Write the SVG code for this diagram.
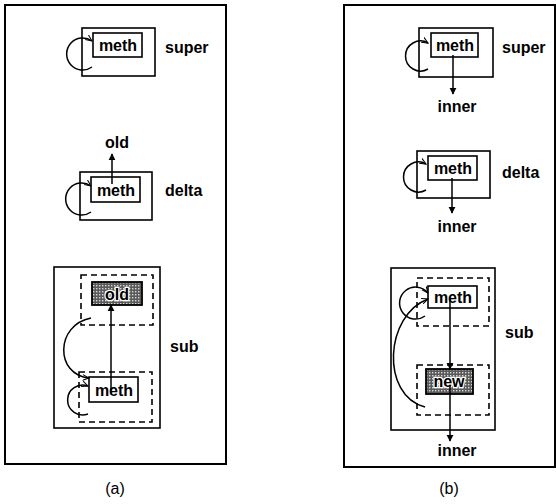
<svg xmlns="http://www.w3.org/2000/svg" width="556" height="504" viewBox="0 0 556 504">
<style>
.panel{fill:none;stroke:#000;stroke-width:2}
.box{fill:#fff;stroke:#000;stroke-width:1.6}
.dash{fill:none;stroke:#000;stroke-width:1.6;stroke-dasharray:6 4}
.fill{fill:url(#stip);stroke:#000;stroke-width:1.8}
.t{font-family:"Liberation Sans",Arial,sans-serif;font-size:16px;font-weight:bold;fill:#000}
.r{font-weight:normal}
.c{text-anchor:middle}
.halo{stroke:#fff;stroke-width:2.5;paint-order:stroke}
.ln{fill:none;stroke:#000;stroke-width:1.5}
</style>
<defs>
<pattern id="stip" width="3" height="3" patternUnits="userSpaceOnUse">
<rect width="3" height="3" fill="#5a5a5a"/>
<rect x="0" y="0" width="1.4" height="1.4" fill="#d8d8d8"/>
</pattern>
<marker id="ah" viewBox="0 0 10 10" refX="9" refY="5" markerWidth="7" markerHeight="8" orient="auto" markerUnits="userSpaceOnUse">
<path d="M0,0 L10,5 L0,10 z" fill="#000"/>
</marker>
<marker id="oh" viewBox="0 0 10 10" refX="9" refY="5" markerWidth="7" markerHeight="7" orient="auto" markerUnits="userSpaceOnUse">
<path d="M0,1 L9,5 L0,9" fill="none" stroke="#000" stroke-width="1.5"/>
</marker>
</defs>

<rect class="panel" x="5" y="5" width="221" height="459"/>
<rect class="panel" x="344" y="5" width="211" height="462"/>

<g id="a-super">
<rect class="box" x="82" y="28" width="73" height="48"/>
<rect class="box" x="93" y="33" width="49" height="24"/>
<text class="t c" x="118" y="51">meth</text>
<text class="t" x="165" y="53">super</text>
</g>
<g id="a-delta">
<rect class="box" x="80" y="172" width="72" height="48"/>
<rect class="box" x="91" y="177" width="49" height="25"/>
<text class="t c" x="116" y="196">meth</text>
<text class="t" x="165" y="196">delta</text>
<text class="t c" x="117" y="148">old</text>
</g>
<g id="a-sub">
<rect class="box" x="54" y="267" width="106" height="161"/>
<rect class="dash" x="81" y="275" width="72" height="50"/>
<rect class="fill" x="92" y="282" width="50" height="23"/>
<text class="t c halo" x="117" y="300">old</text>
<rect class="dash" x="79" y="372" width="73" height="50"/>
<rect class="box" x="89" y="377" width="49" height="25"/>
<text class="t c" x="114" y="396">meth</text>
<text class="t" x="170" y="352">sub</text>
</g>

<g id="b-super">
<rect class="box" x="419" y="28" width="74" height="49"/>
<rect class="box" x="431" y="33" width="47" height="24"/>
<text class="t c" x="455" y="51">meth</text>
<text class="t" x="502" y="53">super</text>
<text class="t c" x="457" y="112">inner</text>
</g>
<g id="b-delta">
<rect class="box" x="417" y="151" width="73" height="47"/>
<rect class="box" x="428" y="156" width="49" height="24"/>
<text class="t c" x="453" y="174">meth</text>
<text class="t" x="502" y="178">delta</text>
<text class="t c" x="457" y="232">inner</text>
</g>
<g id="b-sub">
<rect class="box" x="391" y="268" width="104" height="162"/>
<rect class="dash" x="417" y="278" width="72" height="48"/>
<rect class="box" x="428" y="286" width="49" height="22"/>
<text class="t c" x="453" y="303">meth</text>
<rect class="dash" x="417" y="365" width="72" height="50"/>
<rect class="fill" x="426" y="369" width="47" height="25"/>
<text class="t c halo" x="449" y="387">new</text>
<text class="t" x="505" y="338">sub</text>
<text class="t c" x="457" y="456">inner</text>
</g>

<g id="connectors">
<path class="ln" marker-end="url(#oh)" d="M92,67 A16,16 0 1 1 92,41"/>
<path class="ln" marker-end="url(#oh)" d="M91,212 A16,16 0 1 1 91,186"/>
<line class="ln" marker-end="url(#ah)" x1="112" y1="184" x2="112" y2="154"/>
<path class="ln" marker-end="url(#oh)" d="M88,414 A15,15 0 1 1 88,386"/>
<line class="ln" marker-end="url(#ah)" x1="111" y1="390" x2="111" y2="305"/>
<path class="ln" marker-end="url(#oh)" d="M91,318 C55,325 55,375 89,378"/>

<path class="ln" marker-end="url(#oh)" d="M428,69 A15,15 0 1 1 428,43"/>
<line class="ln" marker-end="url(#ah)" x1="453" y1="55" x2="453" y2="94"/>
<path class="ln" marker-end="url(#oh)" d="M426,190 A15,15 0 1 1 426,164"/>
<line class="ln" marker-end="url(#ah)" x1="452" y1="178" x2="452" y2="213"/>
<path class="ln" marker-end="url(#oh)" d="M425,316 A16,16 0 1 1 428,293"/>
<line class="ln" marker-end="url(#ah)" x1="450" y1="300" x2="450" y2="369"/>
<line class="ln" marker-end="url(#ah)" x1="450" y1="385" x2="450" y2="441"/>
<path class="ln" marker-end="url(#oh)" d="M425,407 C380,395 385,315 428,299"/>

<text class="t r c" x="115" y="494">(a)</text>
<text class="t r c" x="449" y="494">(b)</text>
</g>
</svg>
